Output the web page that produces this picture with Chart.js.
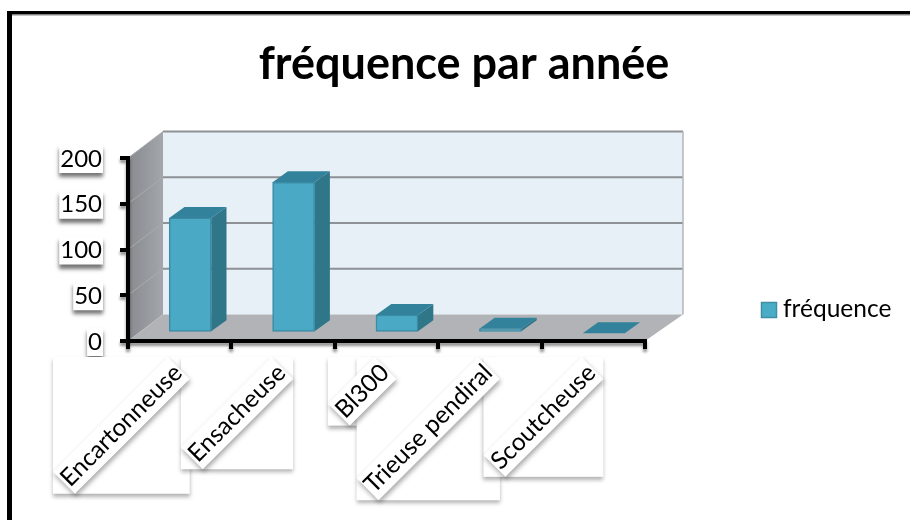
<!DOCTYPE html>
<html>
<head>
<meta charset="utf-8">
<title>fréquence par année</title>
<script src="https://cdn.jsdelivr.net/npm/chart.js@4"></script>
<style>
  html, body { margin: 0; padding: 0; background: #fff; }
  #wrap { position: relative; width: 910px; height: 520px; overflow: hidden; }
</style>
</head>
<body>
<div id="wrap"><canvas id="freqChart" width="910" height="520"></canvas></div>
<script>
// Données du graphique
const categories = ["Encartonneuse", "Ensacheuse", "Bl300", "Trieuse pendiral", "Scoutcheuse"];
const frequence = [126, 165, 20, 5, 0];
const yTicks = [0, 50, 100, 150, 200];
const chartTitle = "fréquence par année";
const seriesName = "fréquence";

// Décalages de la fausse 3D
const DEPTH_X = 35, DEPTH_Y = -26.5;    // mur du fond
const FRONT_X = 10.5, FRONT_Y = -7.7;   // face avant des barres
const BAR_DX = 15.3, BAR_DY = -11;      // profondeur des barres
const FONT = "Lato, 'Noto Sans', sans-serif";

function poly(ctx, pts, fill) {
  ctx.beginPath();
  pts.forEach((p, i) => i ? ctx.lineTo(p[0], p[1]) : ctx.moveTo(p[0], p[1]));
  ctx.closePath();
  if (fill) { ctx.fillStyle = fill; ctx.fill(); }
}

// Ombre portée des étiquettes
function withShadow(ctx, alpha, blur, dy, fn) {
  ctx.save();
  ctx.shadowColor = "rgba(0,0,0," + alpha + ")";
  ctx.shadowBlur = blur;
  ctx.shadowOffsetX = 0;
  ctx.shadowOffsetY = dy;
  fn();
  ctx.restore();
}

const box3d = {
  id: "box3d",
  beforeDraw(chart) {
    const { ctx, chartArea: a, scales: { y } } = chart;
    const L = a.left, R = a.right, T = a.top, B = a.bottom;
    const wallR = R + DEPTH_X + 3;

    ctx.save();
    // mur du fond
    poly(ctx, [[L + DEPTH_X, T + DEPTH_Y], [wallR, T + DEPTH_Y], [wallR, B + DEPTH_Y], [L + DEPTH_X, B + DEPTH_Y]], "#e7eff7");
    // mur de gauche
    const side = ctx.createLinearGradient(L, 0, L + DEPTH_X, 0);
    side.addColorStop(0, "#878b8f");
    side.addColorStop(1, "#a3a7ab");
    poly(ctx, [[L, T], [L + DEPTH_X, T + DEPTH_Y], [L + DEPTH_X, B + DEPTH_Y], [L, B]], side);
    // sol
    poly(ctx, [[L, B], [L + DEPTH_X, B + DEPTH_Y], [wallR, B + DEPTH_Y], [R, B]], "#b1b3b6");

    // quadrillage
    yTicks.forEach(v => {
      const py = y.getPixelForValue(v);
      if (v > 0) {
        ctx.strokeStyle = "#8e9195";
        ctx.lineWidth = 2;
        ctx.beginPath();
        ctx.moveTo(L + DEPTH_X, py + DEPTH_Y);
        ctx.lineTo(wallR, py + DEPTH_Y);
        ctx.stroke();
        ctx.strokeStyle = "#a9acaf";
        ctx.lineWidth = 1;
        ctx.beginPath();
        ctx.moveTo(L, py);
        ctx.lineTo(L + DEPTH_X, py + DEPTH_Y);
        ctx.stroke();
      }
    });
    ctx.strokeStyle = "#b3b6b9";
    ctx.lineWidth = 1.5;
    ctx.beginPath();
    ctx.moveTo(wallR, T + DEPTH_Y);
    ctx.lineTo(wallR, B + DEPTH_Y);
    ctx.stroke();
    ctx.restore();

    // les axes de Chart.js sont dessinés juste après, avec une ombre
    ctx.save();
    ctx.shadowColor = "rgba(0,0,0,0.45)";
    ctx.shadowBlur = 3;
    ctx.shadowOffsetY = 3;
  },
  beforeDatasetsDraw(chart) {
    const { ctx } = chart;
    ctx.restore(); // fin de l'ombre des axes

    // flancs et dessus des barres
    chart.getDatasetMeta(0).data.forEach(bar => {
      const xl = bar.x - bar.width / 2 + FRONT_X, xr = bar.x + bar.width / 2 + FRONT_X;
      const top = bar.y + FRONT_Y, base = bar.base + FRONT_Y;
      poly(ctx, [[xr, top], [xr + BAR_DX, top + BAR_DY], [xr + BAR_DX, base + BAR_DY], [xr, base]], "#2f7688");
      poly(ctx, [[xl, top], [xl + BAR_DX, top + BAR_DY], [xr + BAR_DX, top + BAR_DY], [xr, top]], "#33829b");
    });

    ctx.save();
    ctx.translate(FRONT_X, FRONT_Y);
  },
  afterDatasetsDraw(chart) {
    chart.ctx.restore();
  },
  afterDraw(chart) {
    const { ctx, scales: { x, y } } = chart;

    // titre
    ctx.save();
    ctx.fillStyle = "#000";
    ctx.font = "bold 45px " + FONT;
    ctx.textAlign = "center";
    ctx.fillText(chartTitle, 464, 79);
    ctx.restore();

    // valeurs de l'axe Y sur fond blanc
    ctx.save();
    ctx.font = "24px " + FONT;
    y.ticks.forEach((t, i) => {
      const py = y.getPixelForTick(i);
      const w = ctx.measureText(t.label).width;
      withShadow(ctx, 0.55, 4, 4, () => {
        ctx.fillStyle = "#fff";
        ctx.fillRect(102 - w - 1, py - 13, w + 2, 28);
      });
      ctx.fillStyle = "#000";
      ctx.textAlign = "right";
      ctx.textBaseline = "middle";
      ctx.fillText(t.label, 102, py + 1);
    });
    ctx.restore();

    // catégories à 45° : d'abord les cadres, puis les bandes, puis le texte
    ctx.save();
    ctx.font = "24.5px " + FONT;
    const bandH = 31;
    const boxes = categories.map((label, i) => {
      const w = ctx.measureText(label).width + 2;
      const boxSide = (w + bandH) * Math.SQRT1_2;
      const right = x.getPixelForTick(i) + 10;
      return { label, w, cx: right - boxSide / 2, cy: 357 + boxSide / 2, boxSide };
    });
    boxes.forEach(b => withShadow(ctx, 0.3, 4, 3, () => {
      ctx.fillStyle = "#fff";
      ctx.fillRect(b.cx - b.boxSide / 2, b.cy - b.boxSide / 2, b.boxSide, b.boxSide);
    }));
    boxes.forEach(b => {
      ctx.save();
      ctx.translate(b.cx, b.cy);
      ctx.rotate(-Math.PI / 4);
      ctx.shadowColor = "rgba(0,0,0,0.35)";
      ctx.shadowBlur = 5;
      ctx.shadowOffsetX = 1;
      ctx.shadowOffsetY = 3;
      ctx.fillStyle = "#fff";
      ctx.fillRect(-b.w / 2, -bandH / 2, b.w, bandH);
      ctx.restore();
    });
    boxes.forEach(b => {
      ctx.save();
      ctx.translate(b.cx, b.cy);
      ctx.rotate(-Math.PI / 4);
      ctx.fillStyle = "#000";
      ctx.textAlign = "center";
      ctx.textBaseline = "middle";
      ctx.fillText(b.label, 0, 0);
      ctx.restore();
    });
    ctx.restore();

    // légende
    ctx.save();
    ctx.fillStyle = "#4bacc6";
    ctx.strokeStyle = "#3f8ea5";
    ctx.lineWidth = 1.5;
    ctx.fillRect(761.5, 302.5, 15, 15);
    ctx.strokeRect(761.5, 302.5, 15, 15);
    ctx.fillStyle = "#000";
    ctx.font = "24.5px " + FONT;
    ctx.fillText(seriesName, 783, 317);
    ctx.restore();

    // filets du cadre, en haut et à gauche seulement
    ctx.save();
    ctx.fillStyle = "#000";
    ctx.fillRect(7, 11, 903, 3.5);
    ctx.fillRect(7, 11, 5, 509);
    ctx.fillStyle = "#8a8a8a";
    ctx.fillRect(12, 14.5, 898, 1);
    ctx.restore();
  }
};

new Chart(document.getElementById("freqChart"), {
  type: "bar",
  data: {
    labels: categories,
    datasets: [{
      label: seriesName,
      data: frequence,
      backgroundColor: "#4aaac5",
      borderColor: "#3a8ba5",
      borderWidth: 1.5,
      borderSkipped: false,
      barThickness: 42,
      clip: false
    }]
  },
  options: {
    responsive: false,
    animation: false,
    layout: { padding: { left: 128, right: 265, top: 158, bottom: 179 } },
    plugins: { legend: { display: false }, title: { display: false }, tooltip: { enabled: false } },
    scales: {
      x: {
        afterFit(s) { s.height = 0; },
        grid: { color: "#000", lineWidth: 4, tickLength: 8, drawOnChartArea: false, offset: true },
        border: { color: "#000", width: 4 },
        ticks: { display: false }
      },
      y: {
        min: 0, max: 200,
        afterFit(s) { s.width = 0; },
        afterBuildTicks(s) { s.ticks = yTicks.map(v => ({ value: v })); },
        grid: { color: "#000", lineWidth: 4, tickLength: 8, drawOnChartArea: false },
        border: { color: "#000", width: 4 },
        ticks: { display: false }
      }
    }
  },
  plugins: [box3d]
});
</script>
</body>
</html>
